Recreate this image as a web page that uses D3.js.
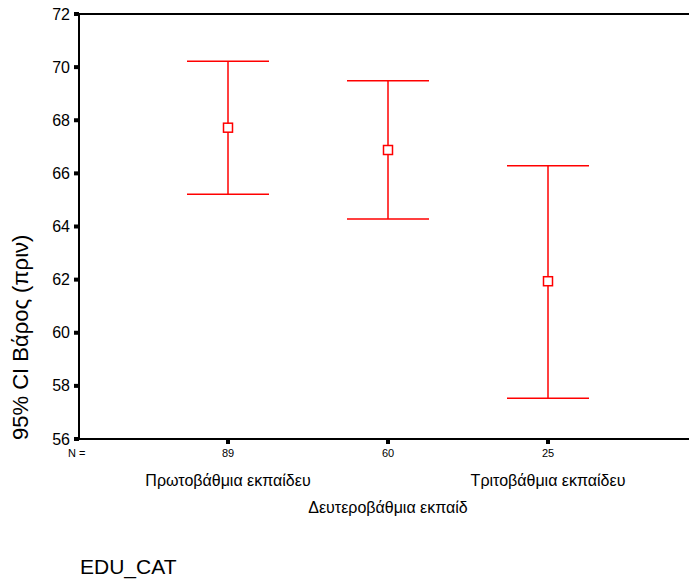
<!DOCTYPE html>
<html>
<head>
<meta charset="utf-8">
<script src="https://cdn.jsdelivr.net/npm/d3@7"></script>
<style>
  body { margin: 0; background: #fff; }
  text { font-family: "Liberation Sans", Arial, sans-serif; }
</style>
</head>
<body>
<script>
// data
var categories = ['Πρωτοβάθμια εκπαίδευ', 'Δευτεροβάθμια εκπαίδ', 'Τριτοβάθμια εκπαίδευ'];
var counts = [89, 60, 25];
var means = [67.72, 66.88, 61.94];
var upper = [70.22, 69.49, 66.29];
var lower = [65.21, 64.28, 57.53];
var yTicks = [56, 58, 60, 62, 64, 66, 68, 70, 72];

var width = 689, height = 580;
var svg = d3.select('body').append('svg')
  .attr('width', width).attr('height', height);

var plotLeft = 79, plotTop = 14, plotBottom = 439;

var y = d3.scaleLinear().domain([56, 72]).range([plotBottom, plotTop]);
var x = d3.scalePoint().domain(categories).range([228, 548]);

// frame lines (top + bottom, left axis)
svg.append('line').attr('x1', plotLeft).attr('x2', width).attr('y1', plotTop).attr('y2', plotTop)
  .attr('stroke', '#000').attr('stroke-width', 2);
svg.append('line').attr('x1', plotLeft).attr('x2', width).attr('y1', plotBottom).attr('y2', plotBottom)
  .attr('stroke', '#000').attr('stroke-width', 2);
svg.append('line').attr('x1', plotLeft).attr('x2', plotLeft).attr('y1', plotTop).attr('y2', plotBottom)
  .attr('stroke', '#000').attr('stroke-width', 2);

// y ticks: little squares + labels
var yt = svg.append('g').selectAll('g').data(yTicks).enter().append('g');
yt.append('rect').attr('x', plotLeft - 5).attr('y', function (d) { return y(d) - 2; })
  .attr('width', 5).attr('height', 4).attr('fill', '#000');
yt.append('text').attr('x', plotLeft - 9).attr('y', function (d) { return y(d); })
  .attr('dy', '0.35em').attr('text-anchor', 'end').attr('font-size', 16)
  .text(function (d) { return d; });

// y label
svg.append('text')
  .attr('transform', 'translate(28,' + (plotBottom + 1) + ') rotate(-90)')
  .attr('text-anchor', 'start').attr('font-size', 22)
  .text('95% CI Βάρος (πριν)');

// x ticks + N counts
svg.append('text').attr('x', 68).attr('y', 457).attr('font-size', 11).text('N =');
categories.forEach(function (c, i) {
  svg.append('rect').attr('x', x(c) - 2).attr('y', plotBottom).attr('width', 4).attr('height', 5)
    .attr('fill', '#000');
  svg.append('text').attr('x', x(c)).attr('y', 457).attr('text-anchor', 'middle')
    .attr('font-size', 11).text(counts[i]);
  svg.append('text').attr('x', x(c)).attr('y', i === 1 ? 513 : 486)
    .attr('text-anchor', 'middle').attr('font-size', 16).text(c);
});

// error bars
var red = '#ff0000', cap = 41;
var bars = svg.append('g').selectAll('g').data(categories).enter().append('g');
bars.append('line')
  .attr('x1', function (d) { return x(d); }).attr('x2', function (d) { return x(d); })
  .attr('y1', function (d, i) { return y(upper[i]); })
  .attr('y2', function (d, i) { return y(lower[i]); })
  .attr('stroke', red).attr('stroke-width', 1.5);
bars.append('line')
  .attr('x1', function (d) { return x(d) - cap; }).attr('x2', function (d) { return x(d) + cap; })
  .attr('y1', function (d, i) { return y(upper[i]); })
  .attr('y2', function (d, i) { return y(upper[i]); })
  .attr('stroke', red).attr('stroke-width', 1.5);
bars.append('line')
  .attr('x1', function (d) { return x(d) - cap; }).attr('x2', function (d) { return x(d) + cap; })
  .attr('y1', function (d, i) { return y(lower[i]); })
  .attr('y2', function (d, i) { return y(lower[i]); })
  .attr('stroke', red).attr('stroke-width', 1.5);
bars.append('rect')
  .attr('x', function (d) { return x(d) - 4.5; })
  .attr('y', function (d, i) { return y(means[i]) - 4.5; })
  .attr('width', 9).attr('height', 9)
  .attr('fill', '#fff').attr('stroke', red).attr('stroke-width', 1.5);

// variable name
svg.append('text').attr('x', 80).attr('y', 574).attr('font-size', 21).text('EDU_CAT');
</script>
</body>
</html>
